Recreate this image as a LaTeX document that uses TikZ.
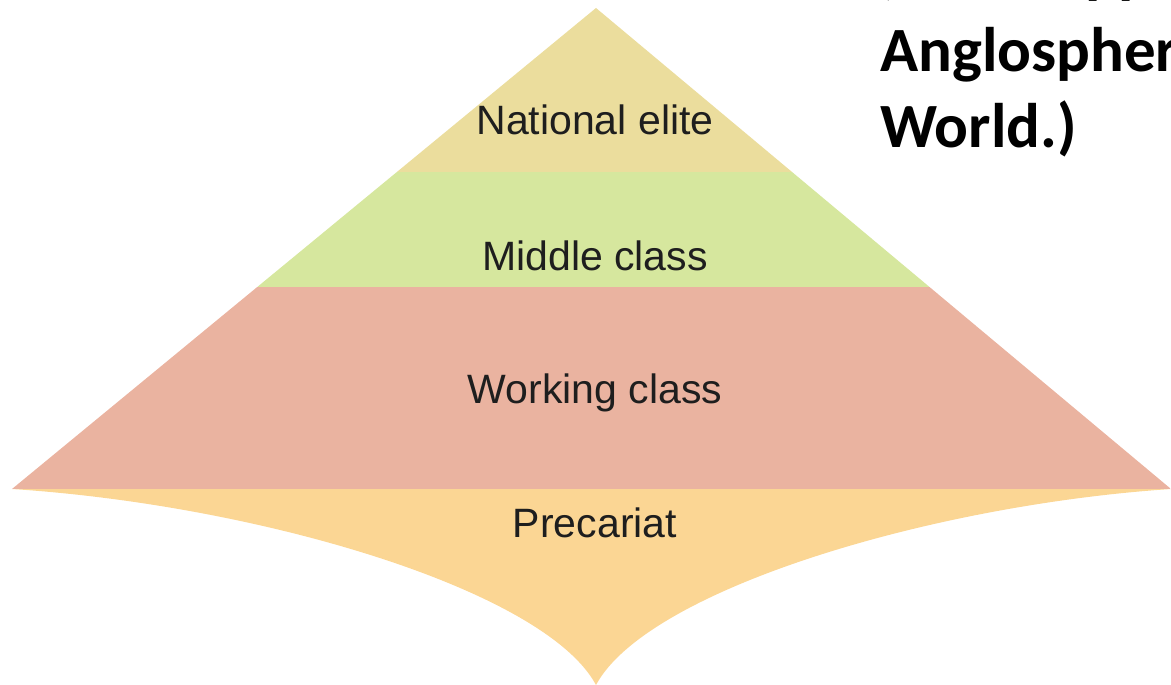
\documentclass[tikz,border=0pt]{standalone}
\usepackage{fontspec}
\setmainfont{Liberation Sans}
\newfontfamily\titlefont{Carlito}
\usepackage{xcolor}
\usepackage{tikz}
\usetikzlibrary{positioning}

\definecolor{elitecol}{RGB}{235,221,157}
\definecolor{middlecol}{RGB}{214,231,158}
\definecolor{workingcol}{RGB}{234,179,160}
\definecolor{precarcol}{RGB}{251,214,148}
\definecolor{labelcol}{RGB}{30,30,30}

\begin{document}
\begin{tikzpicture}[x=1pt,y=-1pt]
	\begin{scope}

\tikzset{layer/.style={text=labelcol,font=\fontsize{41}{41}\selectfont,anchor=base}}
\tikzset{heading/.style={font=\titlefont\bfseries\fontsize{63}{63}\selectfont,anchor=base west,inner sep=0pt}}

\useasboundingbox (0,0) rectangle (1171,685);

\coordinate (apex) at (596,8);
\coordinate (lcorner) at (12,489);
\coordinate (rcorner) at (1171,489);
\coordinate (tip) at (596,685);

% the three upper bands, cut out of one triangle
\begin{scope}
\clip (apex) -- (lcorner) -- (rcorner) -- cycle;
\fill[elitecol] (0,0) rectangle (1171,172);
\fill[middlecol] (0,172) rectangle (1171,287);
\fill[workingcol] (0,287) rectangle (1171,489);
\end{scope}

% bottom band, curving in to a point
\fill[precarcol] (lcorner) .. controls (260,505) and (545,590) .. (tip)
	.. controls (647,590) and (930,505) .. (rcorner) -- cycle;

\node(elite)[layer] at (595,135){National elite};
\node(middle)[layer] at (595,270){Middle class};
\node(working)[layer] at (595,403){Working class};
\node(precariat)[layer] at (595,537){Precariat};

% text at the top right, running off the page
\node(line1)[heading] at (876,-8){(Same applies to the};
\node(line2)[heading] at (880,72){Anglosphere};
\node(line3)[heading] at (880,147){World.)};

	\end{scope}
\end{tikzpicture}
\end{document}
